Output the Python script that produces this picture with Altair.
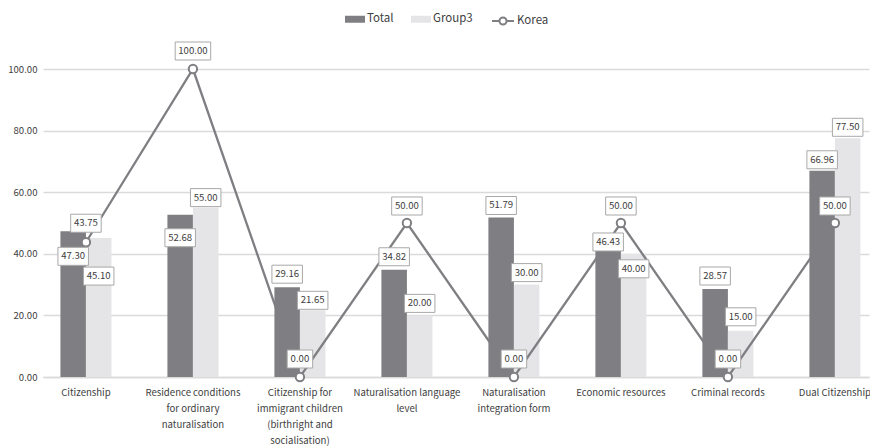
import altair as alt
import pandas as pd

# Categories (line breaks are used for the wrapped axis labels)
categories = [
    "Citizenship",
    "Residence conditions\nfor ordinary\nnaturalisation",
    "Citizenship for\nimmigrant children\n(birthright and\nsocialisation)",
    "Naturalisation language\nlevel",
    "Naturalisation\nintegration form",
    "Economic resources",
    "Criminal records",
    "Dual Citizenship",
]
bar_series = ["Total", "Group3"]
line_series = "Korea"

total = [47.30, 52.68, 29.16, 34.82, 51.79, 46.43, 28.57, 66.96]
group3 = [45.10, 55.00, 21.65, 20.00, 30.00, 40.00, 15.00, 77.50]
korea = [43.75, 100.00, 0.00, 50.00, 0.00, 50.00, 0.00, 50.00]

# Vertical nudges of the value labels, in pixels (negative = above the mark)
total_dy = [25, 23, -13, -13, -12, 8, -13, -11]
group3_dy = [38, -10, -10, -12, -12, 15, -14, -11]
korea_dy = [-19, -18, -18, -17, -18, -17, -18, -17]

PLOT_W, PLOT_H = 826, 308
Y_MAX = 100

FONT = "Noto Sans CJK KR"
FS = 9.6
TEXT = "#404040"
DARK = "#7f7f83"
LIGHT = "#e5e5e7"
GRID = "#dadada"


def box_shape(label):
    # rectangular label box as a symbol path, sized to the label length
    w = 5.0 * len(label) + 5.5
    r = 18.0 / w
    return f"M-1,-{r:.4f}H1V{r:.4f}H-1Z", w * w


rows = []
for series, values, dys in (("Total", total, total_dy), ("Group3", group3, group3_dy)):
    for cat, v, d in zip(categories, values, dys):
        lab = f"{v:.2f}"
        shp, sz = box_shape(lab)
        rows.append(dict(category=cat, series=series, value=v, label=lab, dy=d, box=shp, box_size=sz))
bars_df = pd.DataFrame(rows)

krows = []
for cat, v, d in zip(categories, korea, korea_dy):
    lab = f"{v:.2f}"
    shp, sz = box_shape(lab)
    krows.append(dict(category=cat, series=line_series, value=v, label=lab, dy=d, box=shp, box_size=sz))
korea_df = pd.DataFrame(krows)

# label anchor: the mark's value shifted by the pixel nudge
label_y = f"datum.value - datum.dy * {Y_MAX} / {PLOT_H}"

x_enc = alt.X(
    "category:N",
    sort=categories,
    scale=alt.Scale(paddingInner=0.523, paddingOuter=0.1215, align=0.67),
    axis=alt.Axis(
        title=None,
        labelAngle=0,
        labelExpr="split(datum.label, '\\n')",
        labelLineHeight=16,
        labelPadding=10,
        labelOverlap=False,
        labelLimit=0,
        labelFont=FONT,
        labelFontSize=FS,
        labelColor=TEXT,
        ticks=False,
        domain=True,
        domainColor=GRID,
        domainWidth=1.5,
        grid=False,
    ),
)
xoff_enc = alt.XOffset("series:N", sort=bar_series, scale=alt.Scale(paddingInner=0, paddingOuter=0))
y_scale = alt.Scale(domain=[0, Y_MAX], nice=False)
y_enc = alt.Y(
    "value:Q",
    scale=y_scale,
    axis=alt.Axis(
        title=None,
        values=[0, 20, 40, 60, 80, 100],
        format=".2f",
        grid=True,
        gridColor=GRID,
        gridWidth=1.5,
        domain=False,
        ticks=False,
        labelPadding=6,
        labelFont=FONT,
        labelFontSize=FS,
        labelColor=TEXT,
    ),
)
ylab_enc = alt.Y("label_y:Q", scale=y_scale)

fill_legend = alt.Legend(
    title=None,
    orient="none",
    legendX=302,
    legendY=-60,
    direction="horizontal",
    symbolType="M-1,-0.35H1V0.35H-1Z",
    symbolSize=400,
    symbolStrokeWidth=0,
    labelFont=FONT,
    labelFontSize=11.5,
    labelFontWeight="normal",
    labelColor=TEXT,
    labelOffset=2,
    columnPadding=17,
)
stroke_legend = alt.Legend(
    title=None,
    orient="none",
    legendX=448,
    legendY=-60,
    direction="horizontal",
    symbolType="M-1,0H-0.32M0.32,0H1M-0.32,0A0.32,0.32 0 1,1 0.32,0A0.32,0.32 0 1,1 -0.32,0Z",
    symbolSize=484,
    symbolStrokeWidth=2,
    symbolFillColor="white",
    labelFont=FONT,
    labelFontSize=11.5,
    labelFontWeight="normal",
    labelColor=TEXT,
    labelOffset=2,
)

bars = alt.Chart(bars_df).mark_bar().encode(
    x=x_enc,
    xOffset=xoff_enc,
    y=y_enc,
    fill=alt.Fill("series:N", sort=bar_series,
                  scale=alt.Scale(domain=bar_series, range=[DARK, LIGHT]),
                  legend=fill_legend),
)

stroke_enc = alt.Stroke("series:N", scale=alt.Scale(domain=[line_series], range=[DARK]),
                        legend=stroke_legend)

korea_line = alt.Chart(korea_df).mark_line(strokeWidth=2.3).encode(
    x=x_enc, y=y_enc, stroke=stroke_enc
)
korea_pts = alt.Chart(korea_df).mark_point(
    shape="circle", size=70, filled=True, fill="white", strokeWidth=2, opacity=1
).encode(x=x_enc, y=y_enc, stroke=stroke_enc)

box_props = dict(filled=True, fill="white", stroke="#a8a8a8", strokeWidth=1, opacity=1)
text_props = dict(font=FONT, fontSize=FS, color=TEXT, baseline="middle", align="center")

bar_boxes = alt.Chart(bars_df).transform_calculate(label_y=label_y).mark_point(**box_props).encode(
    x=x_enc, xOffset=xoff_enc, y=ylab_enc,
    shape=alt.Shape("box:N", scale=None), size=alt.Size("box_size:Q", scale=None),
)
bar_text = alt.Chart(bars_df).transform_calculate(label_y=label_y).mark_text(**text_props).encode(
    x=x_enc, xOffset=xoff_enc, y=ylab_enc, text="label:N"
)
k_boxes = alt.Chart(korea_df).transform_calculate(label_y=label_y).mark_point(**box_props).encode(
    x=x_enc, y=ylab_enc,
    shape=alt.Shape("box:N", scale=None), size=alt.Size("box_size:Q", scale=None),
)
k_text = alt.Chart(korea_df).transform_calculate(label_y=label_y).mark_text(**text_props).encode(
    x=x_enc, y=ylab_enc, text="label:N"
)

chart = (
    alt.layer(bars, korea_line, korea_pts, bar_boxes, bar_text, k_boxes, k_text)
    .properties(
        width=PLOT_W,
        height=PLOT_H,
        autosize=alt.AutoSizeParams(type="none"),
        padding={"left": 43, "top": 69, "right": 1, "bottom": 71},
        background="white",
    )
    .configure_view(stroke=None)
)

chart.save("out.html", embed_options={"renderer": "svg", "actions": False})
